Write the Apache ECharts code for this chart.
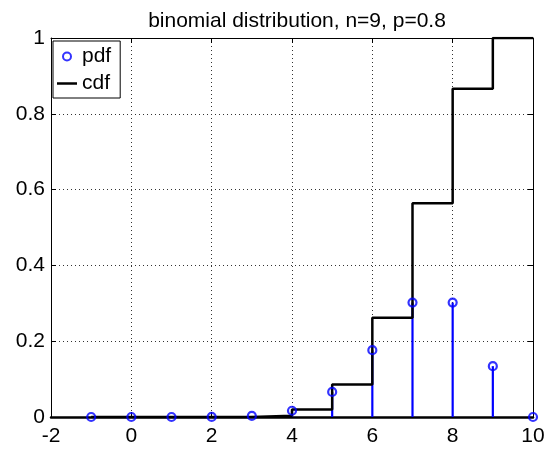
<!DOCTYPE html>
<html>
<head>
<meta charset="utf-8">
<script src="https://cdn.jsdelivr.net/npm/echarts@6/dist/echarts.min.js"></script>
<style>
html,body{margin:0;padding:0;background:#fff;}
#chart{width:551px;height:450px;}
</style>
</head>
<body>
<div id="chart"></div>
<script>
var xValues = [-1, 0, 1, 2, 3, 4, 5, 6, 7, 8, 9, 10];
var pdfValues = [0, 5.12e-7, 1.843e-5, 2.949e-4, 2.753e-3, 1.652e-2, 6.606e-2, 0.1762, 0.3020, 0.3020, 0.1342, 0];
var cdfValues = [0, 5.12e-7, 1.894e-5, 3.138e-4, 3.067e-3, 1.958e-2, 8.564e-2, 0.2618, 0.5638, 0.8658, 1.0, 1.0];
var xTicks = [-2, 0, 2, 4, 6, 8, 10];
var yTicks = [0, 0.2, 0.4, 0.6, 0.8, 1];
var titleText = 'binomial distribution, n=9, p=0.8';

var FONT = '"Liberation Sans", Arial, Helvetica, sans-serif';
var pdfData = xValues.map(function (x, i) { return [x, pdfValues[i]]; });
var cdfData = xValues.map(function (x, i) { return [x, cdfValues[i]]; });

var chart = echarts.init(document.getElementById('chart'), null, {renderer: 'canvas'});

function axisBase(pos, showLabel, isX) {
  var ticks = isX ? xTicks : yTicks;
  return {
    type: 'value',
    position: pos,
    min: ticks[0],
    max: ticks[ticks.length - 1],
    interval: ticks[1] - ticks[0],
    axisLine: {show: true, onZero: false, lineStyle: {color: '#000', width: 1}},
    axisTick: {show: true, inside: true, length: 5, lineStyle: {color: '#000', width: 1}},
    axisLabel: {
      show: showLabel,
      color: '#000',
      fontFamily: FONT,
      fontSize: 21,
      margin: isX ? 9 : 6,
      formatter: function (v) { return String(Math.round(v * 10) / 10); }
    },
    splitLine: {show: false}
  };
}

var xMain = axisBase('bottom', true, true);
xMain.axisLine.lineStyle.width = 2.5;
xMain.splitLine = {show: true, lineStyle: {color: '#333', width: 1, type: [1, 3]}};
var yMain = axisBase('left', true, false);
yMain.splitLine = {show: true, lineStyle: {color: '#333', width: 1, type: [1, 3]}};

var option = {
  backgroundColor: '#fff',
  animation: false,
  title: {
    text: titleText,
    left: 292,
    top: 6,
    textAlign: 'center',
    textStyle: {fontFamily: FONT, fontSize: 21, fontWeight: 'normal', color: '#000'}
  },
  legend: {
    orient: 'vertical',
    left: 53,
    top: 41,
    backgroundColor: '#fff',
    borderColor: '#000',
    borderWidth: 1,
    borderRadius: 0,
    padding: [5, 9, 4, 4],
    itemGap: 6,
    itemWidth: 20,
    itemHeight: 8,
    z: 10,
    textStyle: {fontFamily: FONT, fontSize: 21, color: '#000'},
    data: [
      {name: 'pdf', icon: 'circle', textStyle: {color: '#000'}},
      {name: 'cdf', icon: 'path://M0,0H20V2.5H0Z', itemStyle: {color: '#000'}, textStyle: {color: '#000'}}
    ]
  },
  grid: {left: 51, right: 18, top: 38, bottom: 33, containLabel: false},
  xAxis: [xMain, axisBase('top', false, true)],
  yAxis: [yMain, axisBase('right', false, false)],
  series: [
    {
      name: 'stems',
      type: 'custom',
      z: 2,
      silent: true,
      data: pdfData,
      renderItem: function (params, api) {
        var p0 = api.coord([api.value(0), 0]);
        var p1 = api.coord([api.value(0), api.value(1)]);
        return {
          type: 'line',
          shape: {x1: p0[0], y1: p0[1], x2: p1[0], y2: p1[1]},
          style: {stroke: '#0000ff', lineWidth: 2.2}
        };
      }
    },
    {
      name: 'cdf',
      type: 'line',
      step: 'end',
      symbol: 'none',
      z: 3,
      data: cdfData,
      lineStyle: {color: '#000', width: 2.5},
      itemStyle: {color: '#000'}
    },
    {
      name: 'pdf',
      type: 'scatter',
      z: 4,
      symbol: 'circle',
      symbolSize: 8,
      data: pdfData,
      itemStyle: {color: 'rgba(255,255,255,0)', borderColor: '#0000ff', borderWidth: 2.2}
    }
  ]
};
chart.setOption(option);
</script>
</body>
</html>
